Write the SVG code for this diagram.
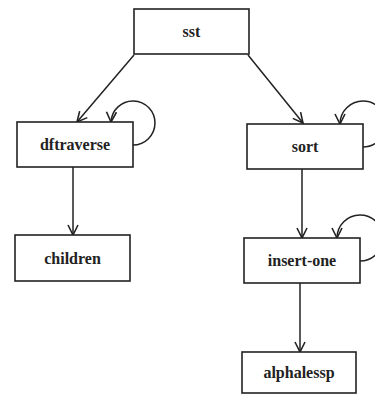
<svg xmlns="http://www.w3.org/2000/svg" width="375" height="396" viewBox="0 0 375 396">
<style>
.box{fill:#fff;stroke:#222;stroke-width:1.6}
.lbl{font-family:"Liberation Serif",serif;font-size:16px;font-weight:bold;fill:#222;text-anchor:middle;dominant-baseline:central}
.edge{fill:none;stroke:#222;stroke-width:1.5;marker-end:url(#arr)}
</style>
<defs>
<marker id="arr" viewBox="0 0 12 12" refX="11" refY="6" markerWidth="12" markerHeight="12" markerUnits="userSpaceOnUse" orient="auto">
<path d="M1,1 L11,6 L1,11" fill="none" stroke="#222" stroke-width="1.6"/>
</marker>
</defs>
<rect width="375" height="396" fill="#fff"/>
<g id="connectors">
<path class="edge" d="M134,55 L77,122"/>
<path class="edge" d="M248,55 L303,123"/>
<path class="edge" d="M73,167 L73,235"/>
<path class="edge" d="M302,169 L302,238"/>
<path class="edge" d="M300,283 L300,352"/>
<path class="edge" d="M133,145 A22 22 0 1 0 111,122"/>
<path class="edge" d="M363,147 A23 23 0 1 0 340,124"/>
<path class="edge" d="M360,261 A23 23 0 1 0 337,238"/>
</g>
<g id="sst"><rect class="box" x="134" y="9" width="115" height="45"/><text class="lbl" x="191.5" y="31.5">sst</text></g>
<g id="dftraverse"><rect class="box" x="17" y="122" width="116" height="45"/><text class="lbl" x="75" y="144.5">dftraverse</text></g>
<g id="sort"><rect class="box" x="247" y="124" width="116" height="45"/><text class="lbl" x="305" y="146.5">sort</text></g>
<g id="children"><rect class="box" x="15" y="235" width="115" height="46"/><text class="lbl" x="72.5" y="258">children</text></g>
<g id="insert-one"><rect class="box" x="244" y="238" width="116" height="45"/><text class="lbl" x="302" y="260.5">insert-one</text></g>
<g id="alphalessp"><rect class="box" x="242" y="352" width="114" height="41"/><text class="lbl" x="299" y="372.5">alphalessp</text></g>
</svg>
